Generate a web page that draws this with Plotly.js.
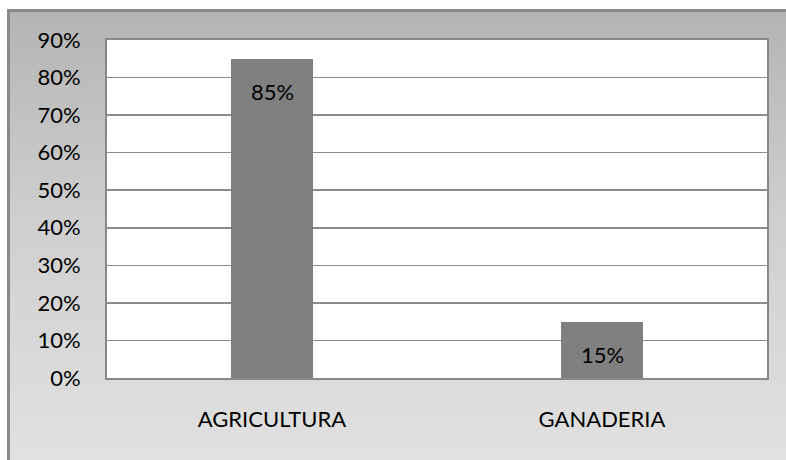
<!DOCTYPE html>
<html>
<head>
<meta charset="utf-8">
<script src="https://cdn.plot.ly/plotly-3.0.1.min.js"></script>
<style>
  html, body { margin: 0; padding: 0; width: 786px; height: 460px; overflow: hidden; background: #fff; }
  #frame {
    position: absolute; left: 7px; top: 9px; width: 800px; height: 470px;
    border: 3px solid #8a8a8a; box-sizing: border-box;
    background: linear-gradient(to bottom, #b4b4b4 0%, #cfcfcf 45%, #e2e2e2 100%);
  }
  #chart { position: absolute; left: 0; top: 0; width: 786px; height: 460px; }
</style>
</head>
<body>
<div id="frame"></div>
<div id="chart"></div>
<script>
const categories = ['AGRICULTURA', 'GANADERIA'];
const values = [0.85, 0.15];
const labels = ['85%', '15%'];

const font = { family: 'Lato, "Open Sans", sans-serif', size: 22, color: '#000' };

const trace = {
  x: categories,
  y: values,
  type: 'bar',
  width: 0.25,
  marker: { color: '#808080', line: { width: 0 } },
  hoverinfo: 'skip'
};

const annotations = categories.map((c, i) => ({
  x: c, y: values[i], text: labels[i],
  xref: 'x', yref: 'y', yanchor: 'top', yshift: -17,
  showarrow: false, font: font
}));

const layout = {
  width: 786, height: 460,
  margin: { l: 107, r: 19, t: 40, b: 82 },
  paper_bgcolor: 'rgba(0,0,0,0)',
  plot_bgcolor: '#ffffff',
  font: font,
  showlegend: false,
  bargap: 0,
  xaxis: {
    showgrid: false, showline: true, linecolor: '#888', linewidth: 2, mirror: true,
    ticks: '', ticklabelstandoff: 21, tickfont: font, zeroline: false
  },
  yaxis: {
    range: [0, 0.9], dtick: 0.1, tickformat: '.0%',
    showgrid: true, gridcolor: '#8c8c8c', gridwidth: 1.5,
    showline: true, linecolor: '#888', linewidth: 2, mirror: true,
    ticks: '', ticklabelstandoff: 20, tickfont: font, zeroline: false
  },
  annotations: annotations
};

Plotly.newPlot('chart', [trace], layout, { displayModeBar: false, staticPlot: true });
</script>
</body>
</html>
